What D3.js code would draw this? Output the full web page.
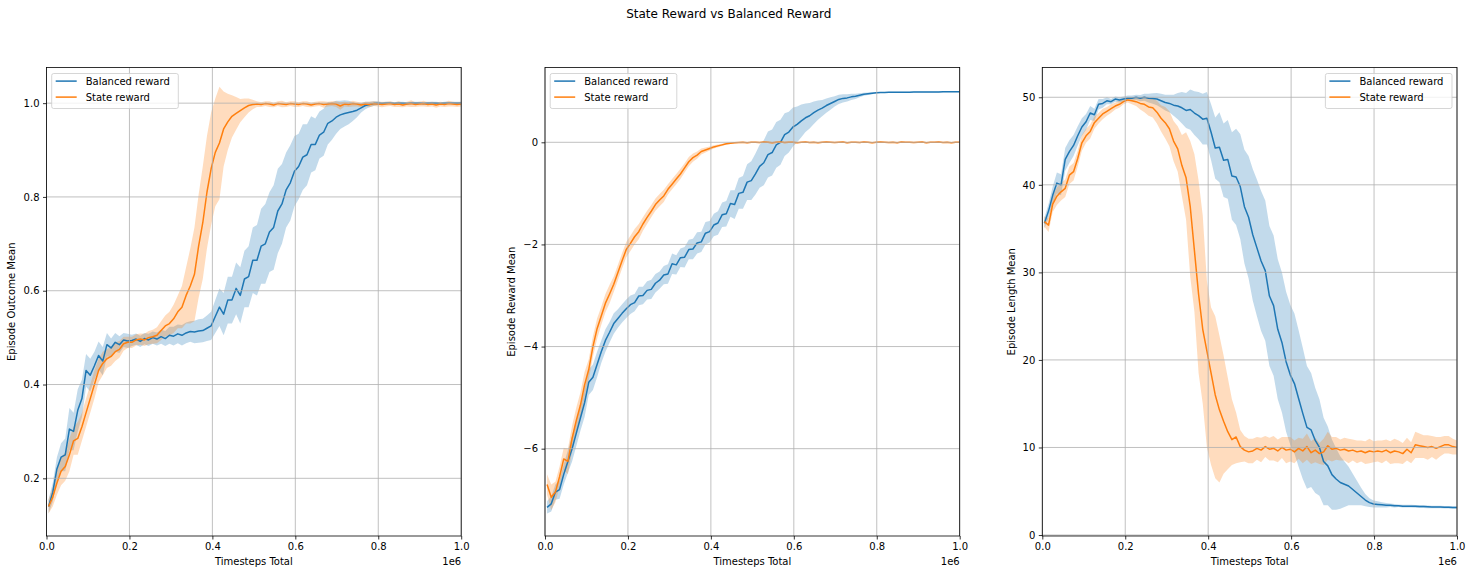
<!DOCTYPE html>
<html>
<head>
<meta charset="utf-8">
<script src="https://cdn.jsdelivr.net/npm/d3@7"></script>
<style>
  body { margin: 0; background: #fff; }
  svg { display: block; font-family: "DejaVu Sans", sans-serif; }
</style>
</head>
<body>
<div id="chart"></div>
<script>
// ----------------------
// Data
// ----------------------
const TIMESTEPS = d3.range(100).map(i => 5000 + i * 10050);
const X_TICKS = [0, 200000, 400000, 600000, 800000, 1000000];

const SERIES_NAMES = ["Balanced reward", "State reward"];

// Episode Outcome Mean
const OUTCOME_DOMAIN = [0.077, 1.076];
const OUTCOME_TICKS = [0.2, 0.4, 0.6, 0.8, 1.0];
const outcomeBalanced = [
  0.14, 0.17, 0.22, 0.245, 0.25, 0.305, 0.30, 0.345, 0.37, 0.43,
  0.42, 0.44, 0.462, 0.45, 0.485, 0.478, 0.49, 0.485, 0.495, 0.493,
  0.494, 0.497, 0.492, 0.498, 0.495, 0.50, 0.497, 0.502, 0.498, 0.505,
  0.503, 0.508, 0.505, 0.51, 0.513, 0.512, 0.514, 0.515, 0.52, 0.525,
  0.545, 0.565, 0.55, 0.58, 0.58, 0.605, 0.59, 0.625, 0.63, 0.665,
  0.665, 0.695, 0.70, 0.725, 0.735, 0.77, 0.785, 0.815, 0.83, 0.855,
  0.865, 0.885, 0.89, 0.912, 0.912, 0.932, 0.938, 0.957, 0.962, 0.97,
  0.975, 0.978, 0.98, 0.982, 0.985, 0.99, 0.995, 0.997, 0.999, 1.0,
  0.999, 1.0, 1.0, 0.999, 1.0, 1.0, 0.999, 1.0, 1.0, 1.0,
  0.999, 1.0, 1.0, 1.0, 0.999, 1.0, 1.0, 1.0, 1.0, 1.0
];
const outcomeBalancedSpread = [
  0.015, 0.02, 0.025, 0.03, 0.035, 0.045, 0.04, 0.045, 0.04, 0.035,
  0.035, 0.03, 0.03, 0.03, 0.025, 0.02, 0.02, 0.018, 0.015, 0.015,
  0.012, 0.012, 0.012, 0.012, 0.013, 0.013, 0.014, 0.015, 0.016, 0.018,
  0.02, 0.02, 0.022, 0.022, 0.022, 0.024, 0.025, 0.025, 0.027, 0.03,
  0.035, 0.04, 0.045, 0.05, 0.05, 0.055, 0.06, 0.06, 0.065, 0.07,
  0.075, 0.08, 0.085, 0.085, 0.09, 0.09, 0.085, 0.08, 0.08, 0.075,
  0.07, 0.07, 0.065, 0.06, 0.055, 0.05, 0.05, 0.045, 0.04, 0.035,
  0.03, 0.028, 0.025, 0.02, 0.015, 0.01, 0.008, 0.006, 0.005, 0.004,
  0.003, 0.003, 0.003, 0.003, 0.003, 0.003, 0.003, 0.003, 0.003, 0.003,
  0.003, 0.003, 0.003, 0.003, 0.003, 0.003, 0.003, 0.003, 0.003, 0.003
];
const outcomeState = [
  0.14, 0.16, 0.19, 0.215, 0.225, 0.25, 0.28, 0.285, 0.31, 0.34,
  0.37, 0.40, 0.43, 0.445, 0.455, 0.46, 0.47, 0.475, 0.487, 0.49,
  0.49, 0.495, 0.497, 0.495, 0.50, 0.502, 0.505, 0.515, 0.525, 0.53,
  0.54, 0.555, 0.565, 0.59, 0.61, 0.635, 0.695, 0.745, 0.81, 0.86,
  0.895, 0.915, 0.945, 0.96, 0.972, 0.978, 0.984, 0.99, 0.995, 0.997,
  0.998, 0.997, 0.999, 0.998, 0.996, 0.999, 0.998, 0.997, 0.999, 0.998,
  0.997, 0.999, 0.998, 0.996, 0.998, 0.999, 0.997, 0.998, 0.999, 0.998,
  0.994, 0.998, 0.997, 0.999, 0.998, 0.996, 0.998, 0.997, 0.999, 0.998,
  0.997, 0.998, 0.999, 0.997, 0.998, 0.996, 0.998, 0.999, 0.997, 0.998,
  0.999, 0.997, 0.998, 0.996, 0.998, 0.997, 0.999, 0.998, 0.997, 0.998
];
const outcomeStateSpread = [
  0.015, 0.02, 0.025, 0.03, 0.03, 0.035, 0.03, 0.035, 0.03, 0.03,
  0.03, 0.03, 0.025, 0.025, 0.02, 0.02, 0.02, 0.018, 0.015, 0.012,
  0.012, 0.012, 0.012, 0.013, 0.014, 0.015, 0.017, 0.02, 0.022, 0.025,
  0.03, 0.035, 0.045, 0.06, 0.08, 0.1, 0.11, 0.12, 0.12, 0.12,
  0.115, 0.12, 0.08, 0.06, 0.045, 0.035, 0.025, 0.02, 0.015, 0.01,
  0.006, 0.005, 0.005, 0.006, 0.005, 0.005, 0.007, 0.005, 0.005, 0.006,
  0.005, 0.005, 0.006, 0.005, 0.005, 0.005, 0.007, 0.005, 0.005, 0.006,
  0.008, 0.005, 0.005, 0.006, 0.005, 0.005, 0.005, 0.006, 0.005, 0.005,
  0.006, 0.005, 0.005, 0.005, 0.006, 0.005, 0.005, 0.007, 0.005, 0.005,
  0.006, 0.005, 0.005, 0.006, 0.005, 0.005, 0.006, 0.005, 0.005, 0.005
];

// Episode Reward Mean
const REWARD_DOMAIN = [-7.71, 1.465];
const REWARD_TICKS = [-6, -4, -2, 0];
const rewardBalanced = [
  -7.15, -7.08, -6.85, -6.8, -6.5, -6.25, -6.0, -5.7, -5.4, -5.1,
  -4.7, -4.6, -4.35, -4.1, -3.88, -3.72, -3.55, -3.45, -3.35, -3.26,
  -3.18, -3.14, -3.01, -3.0, -2.9, -2.88, -2.76, -2.7, -2.6, -2.58,
  -2.38, -2.4, -2.26, -2.25, -2.1, -2.09, -1.97, -1.95, -1.78, -1.75,
  -1.62, -1.58, -1.42, -1.4, -1.2, -1.22, -1.0, -0.98, -0.78, -0.75,
  -0.62, -0.47, -0.4, -0.24, -0.2, -0.05, 0.0, 0.15, 0.2, 0.3,
  0.35, 0.42, 0.48, 0.52, 0.58, 0.63, 0.67, 0.72, 0.76, 0.8,
  0.84, 0.86, 0.87, 0.89, 0.9, 0.92, 0.94, 0.95, 0.96, 0.97,
  0.975, 0.977, 0.978, 0.98, 0.98, 0.981, 0.982, 0.982, 0.983, 0.984,
  0.985, 0.985, 0.986, 0.987, 0.987, 0.988, 0.989, 0.99, 0.99, 0.99
];
const rewardBalancedSpread = [
  0.12, 0.15, 0.15, 0.18, 0.2, 0.22, 0.25, 0.25, 0.25, 0.28,
  0.25, 0.25, 0.25, 0.22, 0.22, 0.2, 0.2, 0.18, 0.18, 0.18,
  0.18, 0.17, 0.18, 0.17, 0.18, 0.19, 0.18, 0.17, 0.18, 0.19,
  0.2, 0.19, 0.18, 0.2, 0.19, 0.2, 0.21, 0.2, 0.22, 0.21,
  0.22, 0.23, 0.24, 0.25, 0.26, 0.28, 0.3, 0.32, 0.35, 0.38,
  0.4, 0.42, 0.44, 0.45, 0.45, 0.45, 0.44, 0.42, 0.4, 0.38,
  0.35, 0.32, 0.28, 0.25, 0.22, 0.19, 0.16, 0.14, 0.12, 0.1,
  0.09, 0.08, 0.07, 0.06, 0.05, 0.04, 0.03, 0.025, 0.02, 0.015,
  0.01, 0.01, 0.01, 0.01, 0.01, 0.01, 0.01, 0.01, 0.01, 0.01,
  0.01, 0.01, 0.01, 0.01, 0.01, 0.01, 0.01, 0.01, 0.01, 0.01
];
const rewardState = [
  -6.7, -6.95, -6.85, -6.55, -6.2, -6.25, -5.8, -5.45, -5.15, -4.75,
  -4.45, -4.0, -3.65, -3.4, -3.15, -2.97, -2.78, -2.55, -2.32, -2.1,
  -1.98, -1.85, -1.75, -1.6, -1.47, -1.35, -1.22, -1.13, -1.05, -0.92,
  -0.82, -0.72, -0.62, -0.5, -0.38, -0.3, -0.25, -0.18, -0.15, -0.12,
  -0.09, -0.07, -0.05, -0.03, -0.02, -0.01, -0.005, 0, -0.01, 0,
  0, -0.005, 0.005, 0, -0.01, 0, 0.005, -0.005, 0, 0,
  -0.01, 0, 0.005, -0.005, 0, -0.01, 0, 0.005, 0, -0.005,
  0, 0.005, -0.01, 0, 0, -0.005, 0.005, 0, -0.01, 0,
  0.005, 0, -0.005, 0, -0.01, 0.005, 0, 0, -0.005, 0,
  0.005, -0.01, 0, 0, 0.005, -0.005, 0, -0.01, 0, 0
];
const rewardStateSpread = [
  0.2, 0.25, 0.2, 0.2, 0.22, 0.25, 0.25, 0.25, 0.25, 0.25,
  0.2, 0.2, 0.2, 0.18, 0.18, 0.18, 0.15, 0.15, 0.15, 0.15,
  0.15, 0.15, 0.15, 0.13, 0.13, 0.12, 0.12, 0.12, 0.12, 0.1,
  0.1, 0.1, 0.1, 0.09, 0.09, 0.08, 0.07, 0.06, 0.05, 0.04,
  0.03, 0.025, 0.02, 0.02, 0.015, 0.015, 0.012, 0.012, 0.012, 0.012,
  0.012, 0.012, 0.012, 0.012, 0.012, 0.012, 0.012, 0.012, 0.012, 0.012,
  0.012, 0.012, 0.012, 0.012, 0.012, 0.012, 0.012, 0.012, 0.012, 0.012,
  0.012, 0.012, 0.012, 0.012, 0.012, 0.012, 0.012, 0.012, 0.012, 0.012,
  0.012, 0.012, 0.012, 0.012, 0.012, 0.012, 0.012, 0.012, 0.012, 0.012,
  0.012, 0.012, 0.012, 0.012, 0.012, 0.012, 0.012, 0.012, 0.012, 0.012
];

// Episode Length Mean
const LENGTH_DOMAIN = [-0.11, 53.4];
const LENGTH_TICKS = [0, 10, 20, 30, 40, 50];
const lengthBalanced = [
  35.6, 37.0, 38.8, 40.2, 40.0, 42.9, 43.8, 44.5, 45.6, 46.6,
  47.2, 48.2, 48.0, 49.2, 49.3, 49.6, 49.5, 49.8, 49.7, 49.8,
  49.9, 49.9, 50.0, 49.9, 50.0, 49.9, 49.85, 49.8, 49.6, 49.4,
  49.3, 49.1, 49.0, 48.8, 48.5, 48.6, 48.2, 47.9, 47.5, 47.6,
  46.0, 44.2, 44.3, 42.8, 42.9, 41.0, 40.9, 39.8, 37.5, 36.3,
  34.3, 32.8, 31.3, 30.2, 27.3, 26.2, 23.5, 22.0, 19.8, 18.3,
  17.3, 15.6, 13.9, 12.3, 12.0, 10.8, 10.0, 8.4, 7.9, 6.9,
  6.4, 6.0, 5.8, 5.6, 5.2, 4.8, 4.4, 4.0, 3.7, 3.55,
  3.5, 3.45, 3.4, 3.4, 3.35, 3.35, 3.3, 3.3, 3.3, 3.28,
  3.25, 3.25, 3.22, 3.2, 3.2, 3.2, 3.18, 3.18, 3.15, 3.15
];
const lengthBalancedSpread = [
  0.6, 0.8, 1.0, 1.2, 1.2, 1.3, 1.3, 1.2, 1.1, 1.0,
  0.9, 0.8, 0.7, 0.6, 0.5, 0.4, 0.3, 0.3, 0.3, 0.3,
  0.3, 0.3, 0.3, 0.35, 0.4, 0.5, 0.6, 0.7, 0.8, 0.9,
  1.0, 1.2, 1.5, 1.8, 2.0, 2.3, 2.5, 2.7, 2.9, 3.0,
  3.2, 3.5, 4.0, 4.2, 4.5, 5.0, 5.5, 6.0, 6.5, 7.0,
  7.5, 7.8, 8.0, 8.0, 8.0, 8.0, 8.0, 8.0, 8.0, 8.0,
  8.0, 7.8, 7.5, 7.0, 6.5, 6.0, 5.5, 5.0, 4.5, 4.0,
  3.5, 3.0, 2.6, 2.2, 1.8, 1.4, 1.0, 0.7, 0.5, 0.4,
  0.35, 0.3, 0.25, 0.2, 0.2, 0.15, 0.15, 0.15, 0.15, 0.15,
  0.15, 0.15, 0.15, 0.15, 0.15, 0.15, 0.15, 0.15, 0.15, 0.15
];
const lengthState = [
  35.8, 35.4, 37.8, 38.7, 39.2, 39.6, 41.1, 41.5, 43.0, 44.8,
  45.6, 46.1, 47.1, 47.6, 48.1, 48.4, 48.7, 49.0, 49.2, 49.5,
  49.7, 49.6, 49.5, 49.3, 49.2, 48.9, 48.8, 48.3, 47.6, 47.1,
  46.4, 45.0, 44.1, 42.2, 40.8, 37.5, 32.5, 27.5, 23.5, 21.0,
  18.5, 16.0, 14.3, 13.0, 11.8, 10.9, 11.2, 10.1, 9.7, 9.5,
  9.6, 9.9, 9.7, 10.1, 9.8, 9.9, 9.6, 10.0, 9.7, 9.8,
  9.5, 9.9, 9.6, 10.1, 9.4, 9.7, 9.3, 9.5, 10.2, 9.8,
  9.9, 9.7, 9.8, 9.6, 9.7, 9.5, 9.6, 9.4, 9.6, 9.5,
  9.6, 9.5, 9.7, 9.4, 9.6, 9.5, 9.3, 9.8, 9.4, 10.3,
  10.2, 10.1, 10.0, 10.1, 9.9, 10.1, 10.3, 10.3, 10.1, 10.0
];
// a number is a symmetric spread, a pair is [below, above]
const lengthStateSpread = [
  0.6, 0.8, 0.9, 1.0, 1.0, 1.0, 1.0, 1.0, 0.9, 0.9,
  0.8, 0.8, 0.7, 0.6, 0.6, 0.5, 0.5, 0.4, 0.4, 0.3,
  0.3, 0.4, 0.5, 0.7, 0.9, 1.0, 1.1, 1.3, 1.5, 1.8,
  2.0, 2.3, 2.6, 3.5, [4.8, 5.2], [8, 7.5], [7, 11], [9, 13], [8.5, 13], [11, 8],
  [10.5, 7.5], [9.5, 9], [8.3, 8.5], [6, 7.5], [4.3, 6.2], [2.9, 4.6], [3, 2.8], [1.8, 1.9], [1.3, 1.6], [1.3, 1.5],
  1.4, 1.3, 1.4, 1.2, 1.3, 1.4, 1.3, 1.2, 1.5, 1.4,
  1.3, 1.2, 1.4, 1.5, 1.3, 1.4, 1.2, 1.5, 1.6, 1.4,
  1.3, 1.2, 1.3, 1.4, 1.2, 1.3, 1.2, 1.3, 1.4, 1.2,
  1.2, 1.3, 1.2, 1.3, 1.4, 1.3, 1.2, 1.3, 1.2, 1.5,
  1.4, 1.3, 1.4, 1.2, 1.3, 1.1, 1.0, 1.0, 0.9, 0.8
];

// ----------------------
// Layout
// ----------------------
const WIDTH = 1473, HEIGHT = 576;
const PANEL_LEFT = [46.5, 545, 1042.3];
const PANEL_W = 414.7;
const PANEL_TOP = 67.5, PANEL_BOTTOM = 536;
const YLABEL_X = [14.5, 514.5, 1014.5];
const COLORS = ["#1f77b4", "#ff7f0e"];
const GRID = "#b0b0b0";

const panels = [
  {
    ylabel: "Episode Outcome Mean", domain: OUTCOME_DOMAIN, ticks: OUTCOME_TICKS,
    format: d3.format(".1f"), legend: "left",
    series: [
      { mean: outcomeBalanced, spread: outcomeBalancedSpread },
      { mean: outcomeState, spread: outcomeStateSpread }
    ]
  },
  {
    ylabel: "Episode Reward Mean", domain: REWARD_DOMAIN, ticks: REWARD_TICKS,
    format: d3.format("d"), legend: "left",
    series: [
      { mean: rewardBalanced, spread: rewardBalancedSpread },
      { mean: rewardState, spread: rewardStateSpread }
    ]
  },
  {
    ylabel: "Episode Length Mean", domain: LENGTH_DOMAIN, ticks: LENGTH_TICKS,
    format: d3.format("d"), legend: "right",
    series: [
      { mean: lengthBalanced, spread: lengthBalancedSpread },
      { mean: lengthState, spread: lengthStateSpread }
    ]
  }
];

const svg = d3.select("#chart")
    .append("svg")
    .attr("width", WIDTH)
    .attr("height", HEIGHT);

// Figure title
svg.append("text")
    .attr("x", 728.8)
    .attr("y", 18.3)
    .attr("text-anchor", "middle")
    .attr("font-size", 12)
    .attr("fill", "#000")
    .text("State Reward vs Balanced Reward");

const defs = svg.append("defs");

panels.forEach((p, k) => {
    const left = PANEL_LEFT[k];
    const right = left + PANEL_W;

    const x = d3.scaleLinear().domain([0, 1e6]).range([left, right]);
    const y = d3.scaleLinear().domain(p.domain).range([PANEL_BOTTOM, PANEL_TOP]);

    const g = svg.append("g");

    defs.append("clipPath").attr("id", "clip" + k)
        .append("rect")
        .attr("x", left).attr("y", PANEL_TOP)
        .attr("width", PANEL_W).attr("height", PANEL_BOTTOM - PANEL_TOP);

    const plot = g.append("g").attr("clip-path", `url(#clip${k})`);

    // rows with band limits
    p.series.forEach(s => {
        s.rows = TIMESTEPS.map((t, i) => {
            const sp = s.spread[i];
            const [dn, up] = Array.isArray(sp) ? sp : [sp, sp];
            return { t, m: s.mean[i], lo: s.mean[i] - dn, hi: s.mean[i] + up };
        });
    });

    // shaded bands (below grid, like matplotlib)
    const area = d3.area()
        .x(d => x(d.t))
        .y0(d => y(d.lo))
        .y1(d => y(d.hi));

    p.series.forEach((s, j) => {
        plot.append("path")
            .datum(s.rows)
            .attr("d", area)
            .attr("fill", COLORS[j])
            .attr("fill-opacity", 0.27)
            .attr("stroke", "none");
    });

    // grid
    const grid = g.append("g")
        .attr("stroke", GRID)
        .attr("stroke-width", 0.8);
    X_TICKS.forEach(t => {
        grid.append("line")
            .attr("x1", x(t)).attr("x2", x(t))
            .attr("y1", PANEL_TOP).attr("y2", PANEL_BOTTOM);
    });
    p.ticks.forEach(v => {
        grid.append("line")
            .attr("x1", left).attr("x2", right)
            .attr("y1", y(v)).attr("y2", y(v));
    });

    // mean lines
    const line = d3.line()
        .x(d => x(d.t))
        .y(d => y(d.m));

    p.series.forEach((s, j) => {
        plot.append("path")
            .datum(s.rows)
            .attr("d", line)
            .attr("fill", "none")
            .attr("stroke", COLORS[j])
            .attr("stroke-width", 1.5)
            .attr("stroke-linejoin", "round");
    });

    // spines
    g.append("rect")
        .attr("x", left).attr("y", PANEL_TOP)
        .attr("width", PANEL_W).attr("height", PANEL_BOTTOM - PANEL_TOP)
        .attr("fill", "none")
        .attr("stroke", "#000")
        .attr("stroke-width", 0.8);

    // axes
    const xAxis = d3.axisBottom(x)
        .tickValues(X_TICKS)
        .tickFormat(d => d3.format(".1f")(d / 1e6))
        .tickSize(3.5)
        .tickPadding(3.5);

    const yAxis = d3.axisLeft(y)
        .tickValues(p.ticks)
        .tickFormat(p.format)
        .tickSize(3.5)
        .tickPadding(3.5);

    [
        g.append("g").attr("transform", `translate(0,${PANEL_BOTTOM})`).call(xAxis),
        g.append("g").attr("transform", `translate(${left},0)`).call(yAxis)
    ].forEach(a => {
        a.select(".domain").remove();
        a.attr("font-family", "DejaVu Sans").attr("font-size", 10).attr("color", "#000");
        a.selectAll(".tick line").attr("stroke-width", 0.8);
    });

    // axis labels
    g.append("text")
        .attr("x", (left + right) / 2)
        .attr("y", 565)
        .attr("text-anchor", "middle")
        .attr("font-size", 10)
        .text("Timesteps Total");

    g.append("text")
        .attr("x", right)
        .attr("y", 565)
        .attr("text-anchor", "end")
        .attr("font-size", 10)
        .text("1e6");

    g.append("text")
        .attr("transform", `translate(${YLABEL_X[k]},${(PANEL_TOP + PANEL_BOTTOM) / 2}) rotate(-90)`)
        .attr("text-anchor", "middle")
        .attr("font-size", 10)
        .text(p.ylabel);

    // legend
    const LEG_W = 126.6, LEG_H = 35;
    const lx = p.legend === "left" ? left + 5.2 : right - 5 - LEG_W;
    const ly = PANEL_TOP + 6;
    const leg = g.append("g");
    leg.append("rect")
        .attr("x", lx).attr("y", ly)
        .attr("width", LEG_W).attr("height", LEG_H)
        .attr("rx", 2)
        .attr("fill", "#fff").attr("fill-opacity", 0.8)
        .attr("stroke", "#cccccc").attr("stroke-opacity", 0.8)
        .attr("stroke-width", 1);
    SERIES_NAMES.forEach((name, j) => {
        const cy = ly + 7.6 + 16 * j;
        leg.append("line")
            .attr("x1", lx + 4).attr("x2", lx + 25)
            .attr("y1", cy).attr("y2", cy)
            .attr("stroke", COLORS[j])
            .attr("stroke-width", 1.5);
        leg.append("text")
            .attr("x", lx + 34)
            .attr("y", cy + 3.6)
            .attr("font-size", 10)
            .text(name);
    });
});
</script>
</body>
</html>
